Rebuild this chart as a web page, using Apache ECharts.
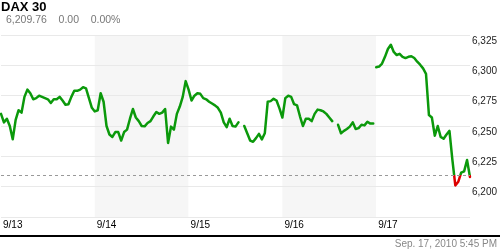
<!DOCTYPE html>
<html>
<head>
<meta charset="utf-8">
<script src="https://cdn.jsdelivr.net/npm/echarts@6/dist/echarts.min.js"></script>
<style>html,body{margin:0;padding:0;background:#fff}#c{width:500px;height:250px}</style>
</head>
<body>
<div id="c"></div>
<script>
// ---- data ----
const title = 'DAX 30';
const lastValue = '6,209.76';
const change = '0.00';
const changePct = '0.00%';
const timestamp = 'Sep. 17, 2010 5:45 PM';
const prevClose = 6209.76;
const dayLabels = ['9/13', '9/14', '9/15', '9/16', '9/17'];
const yTicks = [6175, 6200, 6225, 6250, 6275, 6300, 6325];
const samplesPerDay = 32;
const d0913 = [6260,6253,6256,6250,6239,6255,6263,6261,6274,6280,6277,6272,6273,6275,6274,6273,6272,6269,6272,6272,6274,6271,6267.5,6268,6274,6279,6279,6280,6282,6281,6273,6265];
const d0914 = [6262,6263,6277,6270,6250,6243,6241,6245,6245,6238,6245,6247,6256,6264,6257,6254,6250,6249.7,6252.5,6254,6258,6261.5,6260,6261,6264,6236,6249.5,6247,6260,6266,6274,6287];
const d0915 = [6280,6271,6275,6277,6276.5,6273,6272,6270,6268.5,6267,6265,6261,6253,6249,6256,6250,6249.5,6253,null,6250,6244,6238,6237,6240,6243.5,6239,6244,6270,6270.5,6272.4,6271,6264.5];
const d0916 = [6257,6273,6275,6274,6268,6267,6258,6250,6256,6256,6254,6260,6263.5,6263,6262,6260,6257,6254,null,6251,6244,6246,6247.5,6249.5,6253,6247.5,6248.3,6251,6250.5,6253.5,6252,6252];
const d0917 = [6298.5,6299,6301.5,6307,6313.5,6317,6311,6308.5,6309.5,6307,6306,6307,6307.5,6306,6303,6300.5,6297.5,6293,6259,6257,6242,6250,6241,6239.5,6243,6246,6222,6201,6204,6211.5,6212.6,6222,6208];
const dayValues = [d0913, d0914, d0915, d0916, d0917];
const breakAfterDays = ['9/16'];

// ---- build series data ----
const lineData = [];
dayValues.forEach((arr, d) => {
  arr.forEach((v, j) => lineData.push([d + j / samplesPerDay, v]));
  if (breakAfterDays.includes(dayLabels[d])) lineData.push([d + (arr.length - 0.5) / samplesPerDay, null]);
});

const chart = echarts.init(document.getElementById('c'), null, {renderer: 'canvas'});
const green = '#0b990b', red = '#dd0000';
chart.setOption({
  animation: false,
  backgroundColor: '#fff',
  title: [
    {text: title, left: 1, top: 1, padding: 0,
     textStyle: {fontFamily: 'Arial', fontSize: 13, fontWeight: 'bold', color: '#000'}},
    {text: lastValue + '    ' + change + '    ' + changePct, left: 6, top: 15, padding: 0,
     textStyle: {fontFamily: 'Arial', fontSize: 10.5, fontWeight: 'normal', color: '#777'}},
    {text: timestamp, right: 3, bottom: 1, padding: 0,
     textStyle: {fontFamily: 'Arial', fontSize: 10, fontWeight: 'normal', color: '#888'}}
  ],
  grid: [
    {left: 1, right: 29, top: 35, bottom: 33},
    {left: 0, right: 0, top: 200, bottom: 14}
  ],
  xAxis: [
    {type: 'value', gridIndex: 0, min: 0, max: dayLabels.length, interval: 1, z: 0,
     axisLine: {show: false}, axisTick: {show: false}, splitLine: {show: false},
     splitArea: {show: true, areaStyle: {color: ['#ffffff', '#f6f6f6']}},
     axisLabel: {show: true, align: 'left', margin: 3, padding: [0, 0, 0, 2], showMaxLabel: false,
       fontFamily: 'Arial', fontSize: 10, color: '#000',
       formatter: v => dayLabels[v] || ''}},
    {type: 'value', gridIndex: 1, min: 0, max: 1, show: true,
     axisLine: {show: true, onZero: false, lineStyle: {color: '#000', width: 2}},
     axisTick: {show: false}, axisLabel: {show: false}, splitLine: {show: false}}
  ],
  yAxis: [
    {type: 'value', gridIndex: 0, position: 'right', min: yTicks[0], max: yTicks[yTicks.length - 1], interval: 25, z: 2,
     axisLine: {show: false}, axisTick: {show: false},
     splitLine: {show: true, lineStyle: {color: '#e9e9e9', width: 1}},
     axisLabel: {show: true, showMinLabel: false, margin: 2, verticalAlign: 'top', padding: [1, 0, 0, 0],
       fontFamily: 'Arial', fontSize: 10, color: '#222',
       formatter: v => v.toLocaleString('en-US')}},
    {type: 'value', gridIndex: 1, show: false, min: 0, max: 1}
  ],
  series: [{
    type: 'line', xAxisIndex: 0, yAxisIndex: 0, data: lineData,
    showSymbol: false, connectNulls: false, z: 3,
    lineStyle: {width: 2.5, color: green, join: 'round', cap: 'round'},
    markLine: {silent: true, symbol: 'none', label: {show: false},
      lineStyle: {color: '#999', type: [3, 3], width: 1},
      data: [{yAxis: prevClose}]}
  }]
});

// colour the line red below the previous close, using the axis scale
const yTop = chart.convertToPixel({yAxisIndex: 0}, yTicks[yTicks.length - 1]);
const yBot = chart.convertToPixel({yAxisIndex: 0}, yTicks[0]);
const yPc = chart.convertToPixel({yAxisIndex: 0}, prevClose);
const f = (yPc - yTop) / (yBot - yTop);
chart.setOption({
  series: [{
    lineStyle: {
      color: new echarts.graphic.LinearGradient(0, yTop, 0, yBot, [
        {offset: 0, color: green}, {offset: f, color: green},
        {offset: f, color: red}, {offset: 1, color: red}
      ], true)
    }
  }]
});
</script>
</body>
</html>
